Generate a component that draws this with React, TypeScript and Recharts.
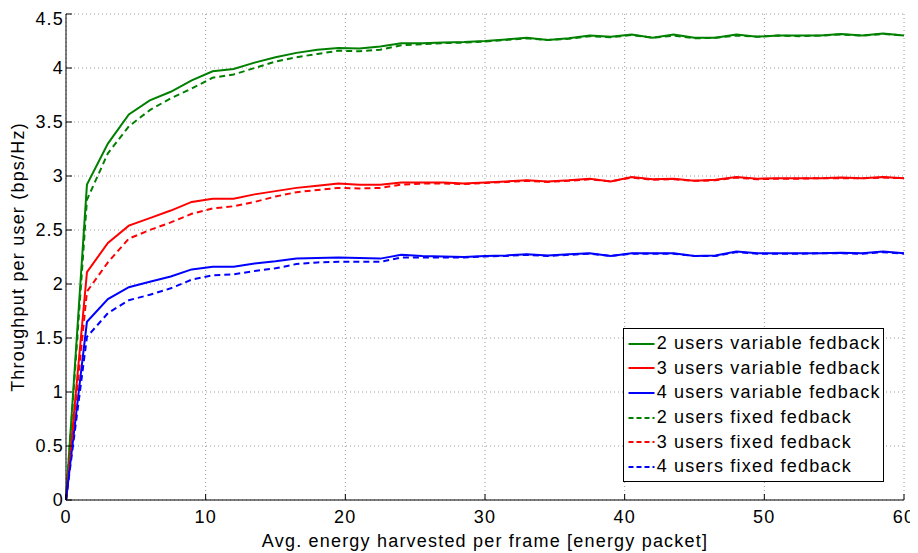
import React from "react";
import {
  LineChart,
  Line,
  XAxis,
  YAxis,
  CartesianGrid,
  Legend,
} from "recharts";

const energy = [
  0, 1.5, 3, 4.5, 6, 7.5, 9, 10.5, 12, 13.5, 15, 16.5, 18, 19.5, 21, 22.5, 24,
  25.5, 27, 28.5, 30, 31.5, 33, 34.5, 36, 37.5, 39, 40.5, 42, 43.5, 45, 46.5,
  48, 49.5, 51, 52.5, 54, 55.5, 57, 58.5, 60,
];

const var2 = [
  0, 2.92, 3.3, 3.57, 3.7, 3.78, 3.885, 3.97, 3.99, 4.05, 4.1, 4.14, 4.17,
  4.185, 4.18, 4.2, 4.23, 4.23, 4.235, 4.24, 4.25, 4.265, 4.28, 4.26, 4.275,
  4.3, 4.29, 4.31, 4.28, 4.31, 4.28, 4.28, 4.31, 4.29, 4.3, 4.3, 4.3, 4.315,
  4.3, 4.32, 4.3,
];
const var3 = [
  0, 2.11, 2.38, 2.54, 2.61, 2.68, 2.76, 2.79, 2.79, 2.83, 2.86, 2.89, 2.91,
  2.93, 2.92, 2.92, 2.94, 2.94, 2.94, 2.93, 2.94, 2.95, 2.96, 2.95, 2.96,
  2.975, 2.95, 2.99, 2.97, 2.975, 2.955, 2.965, 2.99, 2.975, 2.98, 2.98, 2.98,
  2.985, 2.98, 2.99, 2.98,
];
const var4 = [
  0, 1.65, 1.86, 1.97, 2.02, 2.07, 2.135, 2.16, 2.16, 2.19, 2.21, 2.235, 2.24,
  2.245, 2.24, 2.235, 2.27, 2.26, 2.255, 2.25, 2.26, 2.265, 2.275, 2.265,
  2.275, 2.285, 2.26, 2.285, 2.285, 2.285, 2.26, 2.265, 2.3, 2.285, 2.285,
  2.285, 2.285, 2.29, 2.285, 2.3, 2.285,
];
const fix2 = [
  0, 2.78, 3.21, 3.46, 3.61, 3.72, 3.81, 3.91, 3.94, 4.0, 4.06, 4.1, 4.13,
  4.16, 4.155, 4.17, 4.21, 4.22, 4.23, 4.235, 4.245, 4.26, 4.275, 4.26, 4.27,
  4.295, 4.285, 4.305, 4.28, 4.3, 4.275, 4.28, 4.3, 4.29, 4.3, 4.295, 4.3,
  4.31, 4.3, 4.315, 4.3,
];
const fix3 = [
  0, 1.93, 2.2, 2.42, 2.5, 2.57, 2.65, 2.7, 2.72, 2.76, 2.81, 2.85, 2.87,
  2.89, 2.885, 2.89, 2.92, 2.93, 2.93, 2.925, 2.935, 2.945, 2.955, 2.945,
  2.955, 2.97, 2.95, 2.985, 2.965, 2.97, 2.955, 2.96, 2.985, 2.97, 2.975,
  2.975, 2.98, 2.98, 2.98, 2.985, 2.98,
];
const fix4 = [
  0, 1.51, 1.73, 1.85, 1.9, 1.96, 2.04, 2.08, 2.09, 2.12, 2.145, 2.185, 2.2,
  2.205, 2.205, 2.205, 2.245, 2.245, 2.245, 2.245, 2.255, 2.26, 2.27, 2.26,
  2.27, 2.28, 2.26, 2.28, 2.28, 2.28, 2.26, 2.26, 2.295, 2.28, 2.28, 2.28,
  2.285, 2.285, 2.28, 2.295, 2.28,
];

const xTicks = [0, 10, 20, 30, 40, 50, 60];
const yTicks = [0, 0.5, 1, 1.5, 2, 2.5, 3, 3.5, 4, 4.5];

const series = [
  { key: "var2", name: "2 users variable fedback", color: "#008000", dash: "" },
  { key: "var3", name: "3 users variable fedback", color: "#ff0000", dash: "" },
  { key: "var4", name: "4 users variable fedback", color: "#0000ff", dash: "" },
  { key: "fix2", name: "2 users fixed fedback", color: "#008000", dash: "6 4" },
  { key: "fix3", name: "3 users fixed fedback", color: "#ff0000", dash: "6 4" },
  { key: "fix4", name: "4 users fixed fedback", color: "#0000ff", dash: "6 4" },
];

const data = energy.map((x, i) => ({
  x,
  var2: var2[i],
  var3: var3[i],
  var4: var4[i],
  fix2: fix2[i],
  fix3: fix3[i],
  fix4: fix4[i],
}));

const font = "'Liberation Sans', Arial, Helvetica, sans-serif";
const spacing = "1.2px";
const tickStyle = { fill: "#000", fontSize: 18, fontFamily: font, letterSpacing: spacing };
const labelStyle = { fill: "#000", fontSize: 18, fontFamily: font, letterSpacing: spacing, textAnchor: "middle" };

function LegendBox() {
  return (
    <div
      style={{
        width: 261,
        height: 154,
        boxSizing: "border-box",
        border: "1px solid #000",
        background: "#fff",
        paddingTop: 2.5,
        fontFamily: font,
        fontSize: 18,
        letterSpacing: spacing,
        color: "#000",
      }}
    >
      {series.map((s) => (
        <div
          key={s.key}
          style={{ height: 24.7, display: "flex", alignItems: "center" }}
        >
          <svg width={33} height={10} style={{ flex: "none" }}>
            <line
              x1={4.5}
              x2={30.5}
              y1={5}
              y2={5}
              stroke={s.color}
              strokeWidth={2}
              strokeDasharray={s.dash ? "5 3" : undefined}
            />
          </svg>
          <span style={{ whiteSpace: "nowrap" }}>{s.name}</span>
        </div>
      ))}
    </div>
  );
}

export default function App() {
  return (
    <LineChart
      width={910}
      height={545}
      data={data}
      margin={{ top: 6, right: 14, left: 0, bottom: 6 }}
      style={{ background: "#fff" }}
    >
      <CartesianGrid
        stroke="#9a9a9a"
        strokeDasharray="1 3"
        verticalValues={xTicks}
        horizontalValues={yTicks}
      />
      <XAxis
        dataKey="x"
        type="number"
        domain={[0, 60]}
        ticks={xTicks}
        tickSize={-6}
        tickMargin={16}
        stroke="#000"
        tick={tickStyle}
        height={47}
        label={{
          value: "Avg. energy harvested per frame [energy packet]",
          position: "center",
          dy: 17,
          style: labelStyle,
        }}
      />
      <XAxis
        xAxisId="top"
        orientation="top"
        type="number"
        domain={[0, 60]}
        ticks={xTicks}
        tickSize={-6}
        tick={false}
        height={0}
        stroke="#000"
      />
      <YAxis
        type="number"
        domain={[0, 4.5]}
        ticks={yTicks}
        tickSize={-6}
        tickMargin={8}
        stroke="#000"
        tick={tickStyle}
        width={58}
        label={{
          value: "Throughput per user (bps/Hz)",
          angle: -90,
          position: "center",
          dx: -19,
          style: labelStyle,
        }}
      />
      <YAxis
        yAxisId="right"
        orientation="right"
        type="number"
        domain={[0, 4.5]}
        ticks={yTicks}
        tickSize={-6}
        tick={false}
        width={0}
        stroke="#000"
      />
      {series.map((s) => (
        <Line
          key={s.key}
          type="linear"
          dataKey={s.key}
          name={s.name}
          stroke={s.color}
          strokeWidth={2}
          strokeDasharray={s.dash || undefined}
          dot={false}
          activeDot={false}
          isAnimationActive={false}
        />
      ))}
      <Legend
        layout="vertical"
        align="center"
        verticalAlign="middle"
        content={() => <LegendBox />}
        wrapperStyle={{ left: 614.7, top: 319.7, width: 261, height: 154 }}
      />
    </LineChart>
  );
}
